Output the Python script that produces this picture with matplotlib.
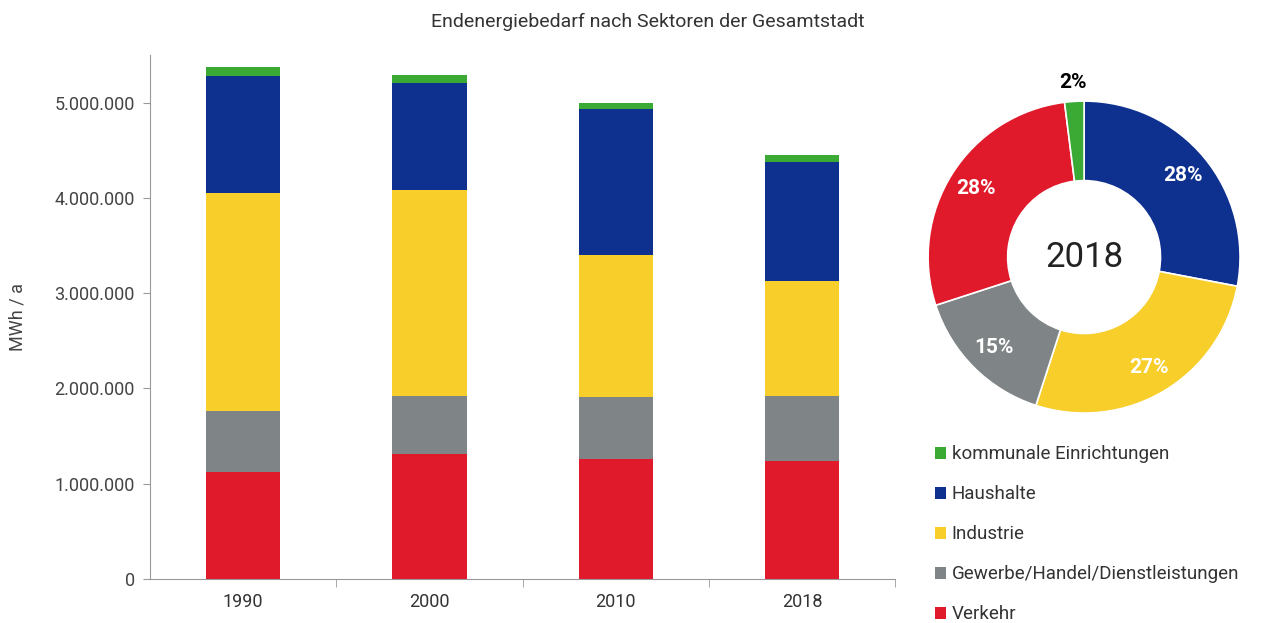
import numpy as np
import matplotlib
matplotlib.use("Agg")
import matplotlib.pyplot as plt
from matplotlib.ticker import FuncFormatter

plt.rcParams["font.family"] = ["Roboto", "DejaVu Sans"]

years = ["1990", "2000", "2010", "2018"]
sectors = ["Verkehr", "Gewerbe/Handel/Dienstleistungen", "Industrie",
           "Haushalte", "kommunale Einrichtungen"]
colors = ["#E0192B", "#7F8587", "#F8CE2B", "#0E318F", "#3AAA35"]

# MWh/a per sector
verkehr = [1120000, 1310000, 1260000, 1240000]
gewerbe = [640000, 610000, 650000, 680000]
industrie = [2290000, 2160000, 1490000, 1210000]
haushalte = [1230000, 1130000, 1530000, 1250000]
kommunal = [100000, 80000, 70000, 70000]

# 2018 shares for the donut (clockwise from top)
pie_labels = ["Haushalte", "Industrie", "Gewerbe/Handel/Dienstleistungen",
              "Verkehr", "kommunale Einrichtungen"]
pie_pct = [28, 27, 15, 28, 2]

fig = plt.figure(figsize=(12.61, 6.23), dpi=100)

# Left: stacked bars
ax = fig.add_axes([0.119, 0.0706, 0.591, 0.841])
series = [verkehr, gewerbe, industrie, haushalte, kommunal]
x = np.arange(len(years))
bottom = np.zeros(len(years))
handles = []
for vals, lab, c in zip(series, sectors, colors):
    b = ax.bar(x, vals, bottom=bottom, width=0.4, color=c, label=lab)
    handles.append(b)
    bottom += np.array(vals)

ax.set_xlim(-0.5, 3.5)
ax.set_ylim(0, 5500000)
ax.set_yticks(range(0, 5000001, 1000000))
ax.yaxis.set_major_formatter(FuncFormatter(lambda v, p: f"{int(v):,}".replace(",", ".")))
ax.set_xticks(x)
ax.set_xticklabels(years)
ax.set_xticks([0.5, 1.5, 2.5, 3.5], minor=True)
ax.tick_params(axis="x", which="major", length=0, pad=10, labelsize=13, colors="#333333")
ax.tick_params(axis="x", which="minor", length=6, color="#999999")
ax.tick_params(axis="y", length=5, color="#999999", labelsize=13, labelcolor="#444444", pad=6)
for s in ["top", "right"]:
    ax.spines[s].set_visible(False)
for s in ["left", "bottom"]:
    ax.spines[s].set_color("#999999")
ax.set_ylabel("MWh / a", fontsize=13, color="#444444", labelpad=20)

fig.text(0.514, 0.965, "Endenergiebedarf nach Sektoren der Gesamtstadt",
         ha="center", va="center", fontsize=14, color="#333333")

# Right: donut for 2018
pax = fig.add_axes([0.736, 0.337, 0.2474, 0.5008])
pie_colors = [colors[sectors.index(l)] for l in pie_labels]
wedges, texts, autotexts = pax.pie(
    pie_pct, colors=pie_colors, startangle=90, counterclock=False,
    radius=1.0, wedgeprops=dict(width=0.51, edgecolor="white", linewidth=1.2),
    autopct=lambda p: f"{p:.0f}%", pctdistance=0.82,
    textprops=dict(color="white", fontsize=15, fontweight="bold"))
# small slice label sits outside in black
autotexts[-1].set_position((-0.07, 1.12))
autotexts[-1].set_color("black")
pax.text(0, 0, "2018", ha="center", va="center", fontsize=25, color="#222222")
pax.set_xlim(-1, 1)
pax.set_ylim(-1, 1)
pax.set_aspect("equal")
pax.axis("off")

fig.legend(handles[::-1], sectors[::-1], loc="upper left",
           bbox_to_anchor=(0.728, 0.312), frameon=False, fontsize=13.5,
           handlelength=0.6, handleheight=0.6, handletextpad=0.3,
           labelspacing=1.17, labelcolor="#333333")

fig.savefig("out.png", dpi=100)
